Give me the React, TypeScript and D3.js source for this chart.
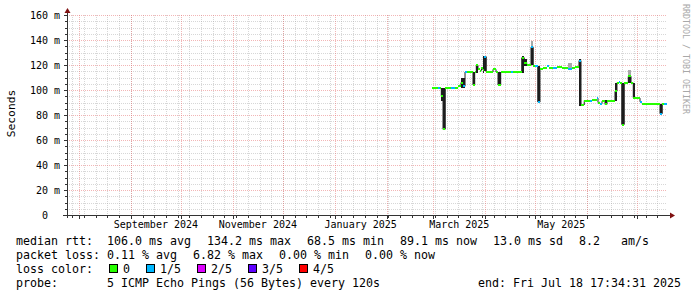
import React from "react";
import * as d3 from "d3";

// ---------- data ----------
const sampleTimes = [
  "2025-02-28T08:00", "2025-03-04T01:00", "2025-03-04T23:00", "2025-03-05T17:30", "2025-03-06T18:00",
  "2025-03-08T03:00", "2025-03-11T13:00", "2025-03-13T18:00", "2025-03-15T17:00", "2025-03-17T12:00",
  "2025-03-19T00:00", "2025-03-19T22:00", "2025-03-21T02:00", "2025-03-24T16:30", "2025-03-25T17:00",
  "2025-03-26T16:00", "2025-03-27T16:00", "2025-03-28T21:00", "2025-03-29T18:30", "2025-03-30T16:00",
  "2025-03-31T13:30", "2025-04-01T15:30", "2025-04-05T15:30", "2025-04-07T11:00", "2025-04-08T15:30",
  "2025-04-10T06:00", "2025-04-16T10:00", "2025-04-17T14:30", "2025-04-22T19:30", "2025-04-24T09:00",
  "2025-04-25T19:30", "2025-04-28T09:00", "2025-04-29T18:00", "2025-05-01T01:30", "2025-05-02T09:30",
  "2025-05-03T18:00", "2025-05-05T13:30", "2025-05-07T18:30", "2025-05-09T03:30", "2025-05-11T13:00",
  "2025-05-13T22:30", "2025-05-16T22:00", "2025-05-20T12:00", "2025-05-22T21:30", "2025-05-24T17:00",
  "2025-05-27T02:00", "2025-05-28T07:00", "2025-05-30T06:00", "2025-06-02T16:00", "2025-06-03T21:00",
  "2025-06-06T16:30", "2025-06-07T11:00", "2025-06-08T15:30", "2025-06-09T20:30", "2025-06-11T15:30",
  "2025-06-12T20:00", "2025-06-17T15:00", "2025-06-18T19:30", "2025-06-20T00:30", "2025-06-20T22:00",
  "2025-06-21T15:30", "2025-06-23T04:30", "2025-06-25T14:00", "2025-06-27T05:00", "2025-06-28T13:30",
  "2025-06-29T14:00", "2025-07-02T14:00", "2025-07-03T14:30", "2025-07-14T13:00", "2025-07-15T22:00",
  "2025-07-16T22:30",
];
const medianMs = [
  101.5, 101.5, 101.5, 95, 68.5,
  101.5, 101.5, 101.5, 103, 106,
  103, 114.4, 114.4, 104, 114.4,
  119.8, 117, 115.5, 118, 116,
  126.8, 114.4, 116.5, 114.4, 104,
  114.4, 114.4, 114.4, 126, 122,
  119.8, 134.2, 119.5, 119.5, 90.3,
  116.5, 117.5, 119, 118, 118,
  118.5, 117.5, 116.5, 118, 118.5,
  123.5, 88, 91.6, 91.6, 92,
  93.5, 90, 89, 91, 88.5,
  91.6, 99, 105.8, 106.5, 105.8,
  72.3, 105.8, 111, 105.8, 93.8,
  93.5, 90.6, 89, 81, 89,
  89.1,
];
const lossClass = [
  0, 1, 0, 0, 0,
  0, 1, 0, 0, 0,
  1, 1, 0, 0, 0,
  0, 0, 0, 0, 0,
  1, 0, 0, 0, 0,
  0, 1, 0, 0, 0,
  0, 1, 0, 1, 1,
  0, 0, 1, 0, 1,
  0, 0, 1, 0, 0,
  1, 0, 0, 1, 0,
  1, 0, 1, 0, 0,
  0, 0, 0, 1, 0,
  0, 0, 0, 0, 0,
  0, 1, 0, 1, 0,
  1,
];
const smokeTimes = [
  "2025-03-05T17:30", "2025-03-06T18:00", "2025-03-17T12:00", "2025-03-19T00:00", "2025-03-24T16:30",
  "2025-03-26T16:00", "2025-03-30T16:00", "2025-03-31T13:30", "2025-04-08T15:30", "2025-04-22T19:30",
  "2025-04-24T09:00", "2025-04-28T09:00", "2025-05-02T09:30", "2025-05-27T02:00", "2025-06-11T15:30",
  "2025-06-17T15:00", "2025-06-21T15:30", "2025-06-25T14:00", "2025-06-28T13:30", "2025-07-14T13:00",
];
const smokeLoMs = [91, 68.5, 102, 102, 103, 114, 114, 115, 103.5, 114, 119, 120, 90, 87, 88, 91.6, 72, 106, 93.5, 80.5];
const smokeHiMs = [102, 102, 110, 110, 114.5, 120, 127, 127.5, 114.5, 127, 125, 134.5, 119.5, 124.6, 92, 106, 106, 111, 106, 89];
const peakTimes = ["2025-04-28T09:00", "2025-05-20T12:00", "2025-06-25T14:00"];
const peakLoMs = [134.5, 117, 111];
const peakHiMs = [139, 121.5, 116];

const lossLabels = ["0", "1/5", "2/5", "3/5", "4/5"];
const lossColors = ["#26ff00", "#00b8ff", "#dd00ff", "#5e00ff", "#ff0000"];

const yTicks = [0, 20, 40, 60, 80, 100, 120, 140, 160];
const yTickLabels = ["0", "20 m", "40 m", "60 m", "80 m", "100 m", "120 m", "140 m", "160 m"];

const legendRow1 = ["median rtt:  106.0 ms avg", "134.2 ms max", "68.5 ms min", "89.1 ms now", "13.0 ms sd", "8.2   am/s"];
const legendRow2 = ["packet loss: 0.11 % avg", "6.82 % max", "0.00 % min", "0.00 % now"];
const lossTitle = "loss color:";
const probeText = "probe:       5 ICMP Echo Pings (56 Bytes) every 120s";
const endText = "end: Fri Jul 18 17:34:31 2025";
const yAxisTitle = "Seconds";
const watermark = "RRDTOOL / TOBI OETIKER";

const startTime = "2024-07-24T20:00:00";
const endTime = "2025-07-18T17:34:31";

// ---------- layout ----------
const W = 697;
const H = 297;
const PL = 67, PR = 667, PT = 15, PB = 215;
const MONO = "'DejaVu Sans Mono', monospace";
const CHAR_W = 7;
const GAP = 16;

function layout(items: string[], x0: number) {
  let cx = x0;
  return items.map((t) => {
    const p = cx;
    cx += t.length * CHAR_W + GAP;
    return p;
  });
}

export default function App() {
  const start = new Date(startTime);
  const end = new Date(endTime);
  const x = d3.scaleTime().domain([start, end]).range([PL, PR]);
  const y = d3.scaleLinear().domain([0, 160]).range([PB, PT]);

  const times = sampleTimes.map((s) => new Date(s));
  const nextTime = (i: number) => (i + 1 < times.length ? times[i + 1] : end);
  const idxOf = (s: string) => sampleTimes.indexOf(s);

  const weeks = d3.timeSunday.range(start, end);
  const months = d3.timeMonth.range(d3.timeMonth.ceil(start), end);
  const minorY = d3.range(0, 161, 5).filter((v) => v % 20 !== 0);

  const monthLabels = d3.timeMonth
    .range(d3.timeMonth.floor(start), end)
    .filter((m) => m.getMonth() % 2 === 0)
    .map((m) => {
      const mid = new Date((m.getTime() + d3.timeMonth.offset(m, 1).getTime()) / 2);
      const label = d3.timeFormat("%B %Y")(m);
      return { cx: x(mid), label };
    })
    .filter((d) => d.cx - (d.label.length * 6) / 2 >= PL - 4 && d.cx + (d.label.length * 6) / 2 <= PR + 4);

  const gridGrey = "rgba(160,160,160,0.42)";
  const gridRed = "rgba(230,110,110,0.5)";

  const r1 = layout(legendRow1, 16);
  const r2 = layout(legendRow2, 16);
  const boxX0 = 16 + lossTitle.length * CHAR_W + GAP;
  const boxes: { bx: number; tx: number }[] = [];
  {
    let cx = boxX0;
    lossLabels.forEach((l) => {
      boxes.push({ bx: cx, tx: cx + 14 });
      cx += 14 + l.length * CHAR_W + GAP;
    });
  }

  const textStyle: React.CSSProperties = { whiteSpace: "pre" };

  return (
    <svg
      width={W}
      height={H}
      viewBox={`0 0 ${W} ${H}`}
      style={{ position: "absolute", left: 0, top: 0, background: "#fff" }}
      fontFamily={MONO}
    >
      <rect x={0} y={0} width={W} height={H} fill="#ffffff" />

      {/* minor grid */}
      <g stroke={gridGrey} strokeWidth={1} strokeDasharray="1,1" shapeRendering="crispEdges">
        {weeks.map((d, i) => (
          <line key={"wv" + i} x1={Math.round(x(d)) + 0.5} x2={Math.round(x(d)) + 0.5} y1={PT} y2={PB} />
        ))}
        {minorY.map((v, i) => (
          <line key={"mh" + i} x1={PL} x2={PR} y1={Math.round(y(v)) + 0.5} y2={Math.round(y(v)) + 0.5} />
        ))}
      </g>
      {/* major grid */}
      <g stroke={gridRed} strokeWidth={1} strokeDasharray="1,1" shapeRendering="crispEdges">
        {months.map((d, i) => (
          <line key={"mv" + i} x1={Math.round(x(d)) + 0.5} x2={Math.round(x(d)) + 0.5} y1={PT} y2={PB} />
        ))}
        {yTicks.filter((v) => v > 0).map((v, i) => (
          <line key={"Mh" + i} x1={PL} x2={PR} y1={Math.round(y(v)) + 0.5} y2={Math.round(y(v)) + 0.5} />
        ))}
      </g>

      {/* smoke */}
      <g shapeRendering="crispEdges">
        {peakTimes.map((t, i) => {
          const k = idxOf(t);
          const x0 = x(new Date(t));
          const x1 = x(nextTime(k));
          return (
            <rect key={"pk" + i} x={x0} y={y(peakHiMs[i])} width={Math.max(1, x1 - x0)}
              height={y(peakLoMs[i]) - y(peakHiMs[i])} fill="#a8a8a8" />
          );
        })}
        {smokeTimes.map((t, i) => {
          const k = idxOf(t);
          const x0 = x(new Date(t));
          const x1 = x(nextTime(k));
          return (
            <rect key={"sm" + i} x={x0} y={y(smokeHiMs[i])} width={Math.max(1, x1 - x0)}
              height={y(smokeLoMs[i]) - y(smokeHiMs[i])} fill="#1c1c1c" />
          );
        })}
      </g>

      {/* connectors */}
      <g stroke="#222" strokeWidth={1}>
        {times.map((t, i) => {
          if (i === 0) return null;
          const a = medianMs[i - 1];
          const b = medianMs[i];
          if (Math.abs(a - b) < 2) return null;
          const xx = x(t);
          return <line key={"cn" + i} x1={xx} x2={xx} y1={y(a)} y2={y(b)} />;
        })}
      </g>

      {/* median */}
      <g shapeRendering="crispEdges">
        {times.map((t, i) => {
          const x0 = x(t);
          const x1 = x(nextTime(i));
          return (
            <rect key={"md" + i} x={x0} y={y(medianMs[i]) - 1} width={Math.max(1, x1 - x0)} height={2}
              fill={lossColors[lossClass[i]]} />
          );
        })}
      </g>

      {/* axes */}
      <g stroke="#333" strokeWidth={1} shapeRendering="crispEdges">
        <line x1={PL + 0.5} x2={PL + 0.5} y1={12} y2={PB + 3} />
        <line x1={PL - 4} x2={PR + 3} y1={PB + 0.5} y2={PB + 0.5} />
        {minorY.map((v, i) => (
          <line key={"ty" + i} x1={PL - 2} x2={PL} y1={Math.round(y(v)) + 0.5} y2={Math.round(y(v)) + 0.5} />
        ))}
        {yTicks.map((v, i) => (
          <line key={"tY" + i} x1={PL - 3} x2={PL} y1={Math.round(y(v)) + 0.5} y2={Math.round(y(v)) + 0.5} />
        ))}
        {weeks.map((d, i) => (
          <line key={"tx" + i} x1={Math.round(x(d)) + 0.5} x2={Math.round(x(d)) + 0.5} y1={PB + 1} y2={PB + 3} />
        ))}
        {months.map((d, i) => (
          <line key={"tX" + i} x1={Math.round(x(d)) + 0.5} x2={Math.round(x(d)) + 0.5} y1={PB + 1} y2={PB + 4} />
        ))}
      </g>
      <polygon points={`${PL - 2.5},13 ${PL + 3.5},13 ${PL + 0.5},8`} fill="#7f1010" />
      <polygon points={`${PR + 3},${PB - 2.5} ${PR + 3},${PB + 3.5} ${PR + 8},${PB + 0.5}`} fill="#7f1010" />

      {/* y tick labels */}
      <g fontSize={10} fill="#000" textAnchor="end">
        {yTicks.map((v, i) => (
          <text key={"yl" + i} x={yTickLabels[i].includes(" ") ? 60 : 48} y={y(v) + 3.7}>
            {yTickLabels[i]}
          </text>
        ))}
      </g>
      {/* x labels */}
      <g fontSize={10} fill="#000" textAnchor="middle">
        {monthLabels.map((d, i) => (
          <text key={"xl" + i} x={d.cx} y={228}>{d.label}</text>
        ))}
      </g>

      {/* y title */}
      <text transform="translate(15,113.5) rotate(-90)" textAnchor="middle" fontSize={11.3} fill="#000">
        {yAxisTitle}
      </text>
      {/* watermark */}
      <text transform="translate(683,4) rotate(90)" fontSize={8.3} fill="#a8a8a8">
        {watermark}
      </text>

      {/* legend */}
      <g fontSize={11.63} fill="#000" style={textStyle}>
        {legendRow1.map((t, i) => (
          <text key={"l1" + i} x={r1[i]} y={245} xmlSpace="preserve" style={textStyle}>{t}</text>
        ))}
        {legendRow2.map((t, i) => (
          <text key={"l2" + i} x={r2[i]} y={259} xmlSpace="preserve" style={textStyle}>{t}</text>
        ))}
        <text x={16} y={273} style={textStyle}>{lossTitle}</text>
        {lossLabels.map((l, i) => (
          <g key={"lb" + i}>
            <rect x={boxes[i].bx + 0.5} y={264.5} width={8} height={8} fill={lossColors[i]} stroke="#000" strokeWidth={1}
              shapeRendering="crispEdges" />
            <text x={boxes[i].tx} y={273}>{l}</text>
          </g>
        ))}
        <text x={16} y={287} xmlSpace="preserve" style={textStyle}>{probeText}</text>
        <text x={681} y={287} textAnchor="end" style={textStyle}>{endText}</text>
      </g>
    </svg>
  );
}
